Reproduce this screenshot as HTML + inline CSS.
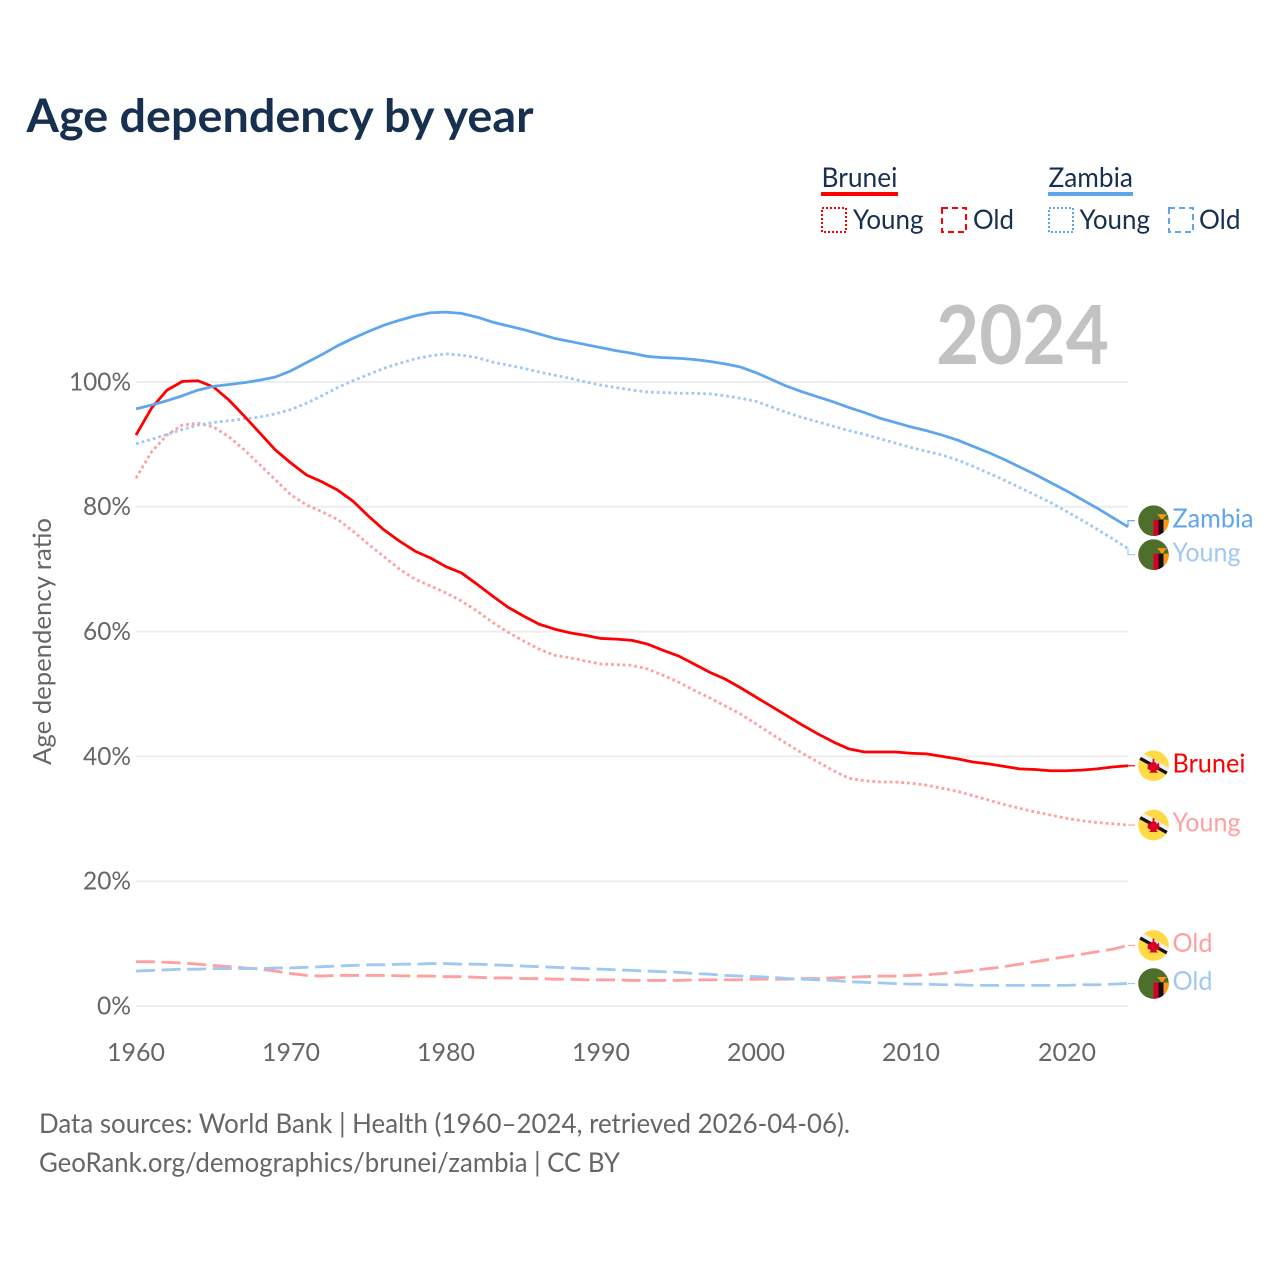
<!DOCTYPE html>
<html lang="en">
<head>
<meta charset="utf-8">
<title>Age dependency by year</title>
<style>
html,body{margin:0;padding:0;background:#fff;}
svg{display:block;}
text{font-family:"Lato","Carlito","Liberation Sans",sans-serif;}
</style>
</head>
<body>
<svg id="chart" xmlns="http://www.w3.org/2000/svg" width="1280" height="1280" viewBox="0 0 1280 1280">
  <rect x="0" y="0" width="1280" height="1280" fill="#ffffff"/>
  <text x="26.5" y="132" font-size="46" font-weight="700" fill="#18304f" textLength="507" lengthAdjust="spacingAndGlyphs">Age dependency by year</text>

  <g>
    <text x="821.5" y="187" font-size="27" fill="#18304f" textLength="76" lengthAdjust="spacingAndGlyphs">Brunei</text>
    <rect x="821" y="192" width="77" height="4" fill="#ff0000"/>
    <rect x="822" y="208" width="24" height="24" fill="none" stroke="#ff0000" stroke-width="2" stroke-dasharray="2 2"/>
    <text x="853" y="229" font-size="27" fill="#18304f" textLength="70.5" lengthAdjust="spacingAndGlyphs">Young</text>
    <rect x="942" y="208" width="24" height="24" fill="none" stroke="#ff0000" stroke-width="2" stroke-dasharray="6 4"/>
    <text x="973" y="229" font-size="27" fill="#18304f" textLength="41" lengthAdjust="spacingAndGlyphs">Old</text>
    <text x="1048.5" y="187" font-size="27" fill="#18304f" textLength="84.5" lengthAdjust="spacingAndGlyphs">Zambia</text>
    <rect x="1048" y="192" width="85" height="4" fill="#5fa5ee"/>
    <rect x="1049" y="208" width="24" height="24" fill="none" stroke="#5fa5ee" stroke-width="2" stroke-dasharray="2 2"/>
    <text x="1079.5" y="229" font-size="27" fill="#18304f" textLength="70.5" lengthAdjust="spacingAndGlyphs">Young</text>
    <rect x="1169" y="208" width="24" height="24" fill="none" stroke="#5fa5ee" stroke-width="2" stroke-dasharray="6 4"/>
    <text x="1199" y="229" font-size="27" fill="#18304f" textLength="41.5" lengthAdjust="spacingAndGlyphs">Old</text>
  </g>

  <text transform="translate(51,765) rotate(-90)" font-size="25" fill="#666666" textLength="247" lengthAdjust="spacingAndGlyphs">Age dependency ratio</text>
  <g id="grid"></g>
  <g id="y-ticks"></g>
  <g id="x-ticks"></g>
  <text x="936" y="364" font-size="81" font-weight="700" fill="#c2c2c2" textLength="173" lengthAdjust="spacingAndGlyphs">2024</text>
  <g id="series"></g>
  <g id="end-labels"></g>

  <text x="39" y="1133" font-size="27" fill="#666666" textLength="811" lengthAdjust="spacingAndGlyphs">Data sources: World Bank | Health (1960–2024, retrieved 2026-04-06).</text>
  <text x="39" y="1172" font-size="27" fill="#666666" textLength="581" lengthAdjust="spacingAndGlyphs">GeoRank.org/demographics/brunei/zambia | CC BY</text>
</svg>
<script>
const firstYear = 1960;
const xTickYears = [1960, 1970, 1980, 1990, 2000, 2010, 2020];
const yTickValues = [0, 20, 40, 60, 80, 100];

const bruneiTotal = [
  91.5, 95.8, 98.7, 100.1, 100.2, 99.2, 97.1, 94.5, 91.8, 89.1,
  87.0, 85.1, 84.0, 82.7, 80.9, 78.5, 76.3, 74.5, 72.9, 71.8,
  70.4, 69.4, 67.6, 65.7, 63.9, 62.5, 61.2, 60.4, 59.8, 59.4,
  58.9, 58.8, 58.6, 58.0, 57.0, 56.1, 54.8, 53.5, 52.4, 51.0,
  49.5, 48.0, 46.5, 45.0, 43.6, 42.3, 41.2, 40.7, 40.7, 40.7,
  40.5, 40.4, 40.0, 39.6, 39.1, 38.8, 38.4, 38.0, 37.9, 37.7,
  37.7, 37.8, 38.0, 38.3, 38.5
];
const bruneiYoung = [
  84.6, 88.8, 91.5, 93.1, 93.4, 92.8, 91.2, 89.1, 86.7, 84.3,
  81.9, 80.3, 79.2, 78.0, 76.1, 74.0, 72.0, 70.0, 68.4, 67.3,
  66.2, 64.9, 63.3, 61.5, 59.9, 58.5, 57.2, 56.2, 55.8, 55.3,
  54.8, 54.7, 54.6, 54.0, 53.0, 51.9, 50.6, 49.4, 48.1, 46.8,
  45.2, 43.6, 42.0, 40.5, 39.1, 37.7, 36.5, 36.1, 35.9, 35.9,
  35.7, 35.4, 34.9, 34.4, 33.7, 33.0, 32.3, 31.7, 31.1, 30.6,
  30.1, 29.7, 29.4, 29.2, 29.0
];
const bruneiOld = [
  7.1, 7.1, 7.0, 6.9, 6.7, 6.5, 6.3, 6.1, 5.9, 5.6,
  5.2, 4.9, 4.8, 4.9, 4.9, 4.9, 4.9, 4.85, 4.8, 4.8,
  4.7, 4.7, 4.6, 4.5, 4.5, 4.4, 4.4, 4.3, 4.3, 4.2,
  4.2, 4.2, 4.1, 4.1, 4.1, 4.1, 4.2, 4.2, 4.2, 4.2,
  4.3, 4.3, 4.3, 4.4, 4.4, 4.5, 4.6, 4.7, 4.8, 4.8,
  4.9, 5.0, 5.2, 5.4, 5.7, 6.0, 6.3, 6.7, 7.1, 7.5,
  7.9, 8.3, 8.7, 9.1, 9.7
];
const zambiaTotal = [
  95.7, 96.3, 97.0, 97.8, 98.7, 99.3, 99.6, 99.9, 100.3, 100.8,
  101.8, 103.1, 104.4, 105.8, 107.0, 108.1, 109.1, 109.9, 110.6, 111.1,
  111.2, 111.0, 110.4, 109.6, 109.0, 108.4, 107.7, 107.0, 106.5, 106.0,
  105.5, 105.0, 104.6, 104.1, 103.9, 103.8, 103.6, 103.3, 102.9, 102.4,
  101.5, 100.4, 99.3, 98.4, 97.6, 96.8, 95.9, 95.1, 94.2, 93.5,
  92.8, 92.2, 91.5, 90.7, 89.7, 88.7, 87.6, 86.4, 85.2, 83.9,
  82.6, 81.2, 79.8, 78.3, 76.8
];
const zambiaYoung = [
  90.1, 90.8, 91.6, 92.4, 93.1, 93.5, 93.8, 94.1, 94.4, 94.9,
  95.6, 96.6, 97.8, 99.1, 100.2, 101.2, 102.2, 103.0, 103.7, 104.2,
  104.5, 104.3, 103.9, 103.2, 102.7, 102.2, 101.6, 101.1, 100.6, 100.0,
  99.5, 99.1, 98.7, 98.4, 98.3, 98.2, 98.2, 98.1, 97.8, 97.4,
  96.9, 96.0, 95.1, 94.3, 93.6, 92.9, 92.2, 91.6, 90.9, 90.2,
  89.5, 88.9, 88.3, 87.5, 86.5, 85.4, 84.3, 83.1, 81.9, 80.7,
  79.3, 77.9, 76.4, 74.9, 73.3
];
const zambiaOld = [
  5.6, 5.7, 5.8, 5.9, 5.9, 6.0, 6.0, 6.0, 6.0, 6.1,
  6.1, 6.2, 6.3, 6.4, 6.5, 6.6, 6.6, 6.7, 6.7, 6.8,
  6.8, 6.7, 6.7, 6.6, 6.5, 6.4, 6.3, 6.2, 6.1, 6.0,
  5.9, 5.8, 5.7, 5.6, 5.5, 5.4, 5.2, 5.1, 4.9, 4.8,
  4.7, 4.6, 4.4, 4.3, 4.2, 4.1, 3.9, 3.8, 3.7, 3.6,
  3.5, 3.5, 3.4, 3.4, 3.3, 3.3, 3.3, 3.3, 3.3, 3.3,
  3.3, 3.4, 3.4, 3.5, 3.6
];

const NS = 'http://www.w3.org/2000/svg';
const xScale = function (year) { return 136 + (year - 1960) * 15.5; };
const yScale = function (v) { return 1006 - v * 6.24; };
const pointsFor = function (values) {
  return values.map(function (v, i) { return xScale(firstYear + i).toFixed(2) + ',' + yScale(v).toFixed(2); }).join(' ');
};
const make = function (tag, parent, name, interactable) {
  const el = document.createElementNS(NS, tag);
  
  
  parent.appendChild(el);
  return el;
};

const gridGroup = document.getElementById('grid');
const yGroup = document.getElementById('y-ticks');
yTickValues.forEach(function (v) {
  const line = make('line', gridGroup, 'gridline-' + v, 'false');
  line.setAttribute('x1', xScale(1960));
  line.setAttribute('x2', xScale(2024));
  line.setAttribute('y1', yScale(v));
  line.setAttribute('y2', yScale(v));
  line.setAttribute('stroke', '#eeeeee');
  line.setAttribute('stroke-width', '2');
  const t = make('text', yGroup, 'y-tick-' + v, 'false');
  t.setAttribute('x', 131);
  t.setAttribute('y', yScale(v) + 8.4);
  t.setAttribute('text-anchor', 'end');
  t.setAttribute('font-size', '25');
  t.setAttribute('fill', '#666666');
  t.setAttribute('textLength', String(v).length === 3 ? 62 : (String(v).length === 2 ? 48 : 34));
  t.setAttribute('lengthAdjust', 'spacingAndGlyphs');
  t.textContent = v + '%';
});

const xGroup = document.getElementById('x-ticks');
xTickYears.forEach(function (y) {
  const t = make('text', xGroup, 'x-tick-' + y, 'false');
  t.setAttribute('x', xScale(y) + (y === 2020 ? 1 : 0));
  t.setAttribute('y', 1061);
  t.setAttribute('text-anchor', 'middle');
  t.setAttribute('font-size', '25');
  t.setAttribute('fill', '#666666');
  t.setAttribute('textLength', '58');
  t.setAttribute('lengthAdjust', 'spacingAndGlyphs');
  t.textContent = y;
});

const seriesList = [
  { name: 'brunei-old', values: bruneiOld, color: '#ffa0a0', dash: '19 6.6', label: 'Old', width: 40, flag: 'brunei' },
  { name: 'zambia-old', values: zambiaOld, color: '#a0c8f2', dash: '19 6.6', label: 'Old', width: 40, flag: 'zambia' },
  { name: 'brunei-young', values: bruneiYoung, color: '#ffa0a0', dash: '2.8 3', label: 'Young', width: 68, flag: 'brunei' },
  { name: 'zambia-young', values: zambiaYoung, color: '#a0c8f2', dash: '2.8 3', label: 'Young', width: 68, flag: 'zambia' },
  { name: 'brunei-total', values: bruneiTotal, color: '#ff0000', dash: '', label: 'Brunei', width: 73, flag: 'brunei' },
  { name: 'zambia-total', values: zambiaTotal, color: '#5fa5ee', dash: '', label: 'Zambia', width: 81, flag: 'zambia' }
];

const seriesGroup = document.getElementById('series');
seriesList.forEach(function (s) {
  const p = make('polyline', seriesGroup, 'line-' + s.name, 'true');
  p.setAttribute('points', pointsFor(s.values));
  p.setAttribute('fill', 'none');
  p.setAttribute('stroke', s.color);
  p.setAttribute('stroke-width', '2.8');
  p.setAttribute('stroke-linejoin', 'round');
  if (s.dash) {
    p.setAttribute('stroke-dasharray', s.dash);
  }
});

/* End labels: start at each series' final value, then spread apart so flags do not overlap. */
const minGap = 34;
const placed = seriesList.map(function (s) {
  const endY = yScale(s.values[s.values.length - 1]);
  return { s: s, endY: endY, y: endY };
}).sort(function (a, b) { return a.endY - b.endY; });
for (let i = 1; i < placed.length; i++) {
  const gap = placed[i].y - placed[i - 1].y;
  if (gap < minGap) {
    const push = (minGap - gap) / 2;
    placed[i - 1].y -= push;
    placed[i].y += push;
  }
}

const defs = document.createElementNS(NS, 'defs');
document.getElementById('chart').appendChild(defs);
const endGroup = document.getElementById('end-labels');
const cx = 1153.5;
const r = 15.3;

function rect(parent, name, x, y, w, h, fill) {
  const el = make('rect', parent, name, 'false');
  el.setAttribute('x', x);
  el.setAttribute('y', y);
  el.setAttribute('width', w);
  el.setAttribute('height', h);
  el.setAttribute('fill', fill);
  return el;
}
function poly(parent, name, pts, fill) {
  const el = make('polygon', parent, name, 'false');
  el.setAttribute('points', pts);
  el.setAttribute('fill', fill);
  return el;
}

function drawFlag(parent, kind, key, cy) {
  const clip = document.createElementNS(NS, 'clipPath');
  clip.setAttribute('id', 'clip-' + key);
  const c = document.createElementNS(NS, 'circle');
  c.setAttribute('cx', 0);
  c.setAttribute('cy', 0);
  c.setAttribute('r', r);
  clip.appendChild(c);
  defs.appendChild(clip);
  const g = make('g', parent, 'flag-' + key, 'false');
  g.setAttribute('transform', 'translate(' + cx + ',' + cy + ')');
  const inner = make('g', g, 'flag-shapes-' + key, 'false');
  inner.setAttribute('clip-path', 'url(#clip-' + key + ')');
  if (kind === 'zambia') {
    rect(inner, 'flag-field', -16, -16, 32, 32, '#4d6f2c');
    rect(inner, 'flag-stripe-red', 0, -1, 5, 17, '#d80027');
    rect(inner, 'flag-stripe-black', 5, -1, 5, 17, '#111111');
    rect(inner, 'flag-stripe-orange', 10, -1, 6, 17, '#ff9811');
    poly(inner, 'flag-eagle', '3.5,-6.5 13.5,-6.5 10.5,-3.5 9.5,-1.5 7.5,-1.5 6.5,-3.5', '#ff9811');
  } else {
    rect(inner, 'flag-field', -16, -16, 32, 32, '#ffda44');
    poly(inner, 'flag-band-white', '-16,-15.5 16,2.5 16,10 -16,-8', '#f0f0f0');
    poly(inner, 'flag-band-black', '-16,-10.8 16,7 16,10.8 -16,-7', '#111111');
    poly(inner, 'flag-emblem', '-0.8,-7 0.8,-7 1,-3.5 3,-3 3,-1 5.5,-3 6,3 2.5,5 4.5,7 -4.5,7 -2.5,5 -6,3 -5.5,-3 -3,-1 -3,-3 -1,-3.5', '#d80027');
  }
}

placed.forEach(function (p) {
  const s = p.s;
  const g = make('g', endGroup, 'end-label-' + s.name, 'false');
  const conn = make('polyline', g, 'connector-' + s.name, 'false');
  conn.setAttribute('points', xScale(2024) + ',' + p.endY.toFixed(2) + ' ' + xScale(2024) + ',' + p.y.toFixed(2) + ' 1135,' + p.y.toFixed(2));
  conn.setAttribute('fill', 'none');
  conn.setAttribute('stroke', s.color);
  conn.setAttribute('stroke-width', '1.2');
  drawFlag(g, s.flag, s.name, p.y);
  const t = make('text', g, 'label-' + s.name, 'true');
  t.setAttribute('x', 1172.5);
  t.setAttribute('y', p.y + 6.6);
  t.setAttribute('font-size', '26');
  t.setAttribute('fill', s.color);
  t.setAttribute('textLength', s.width);
  t.setAttribute('lengthAdjust', 'spacingAndGlyphs');
  t.textContent = s.label;
});
</script>
</body>
</html>
